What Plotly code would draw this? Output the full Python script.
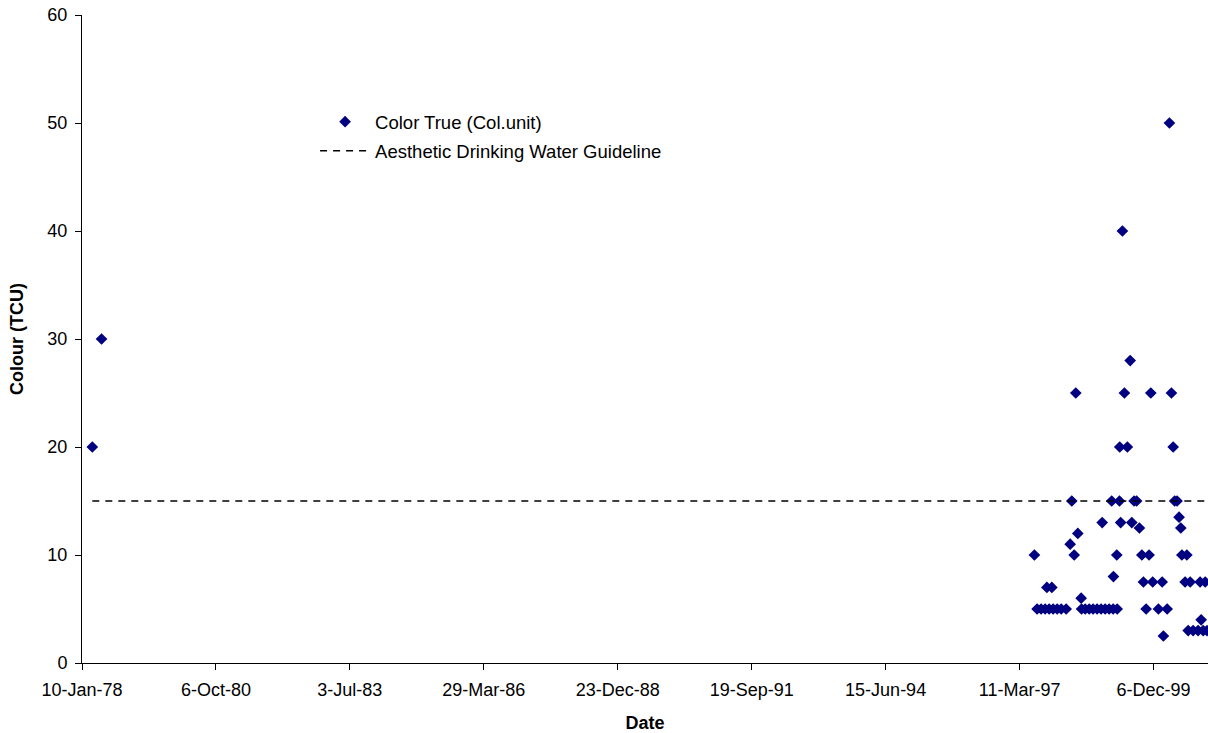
import plotly.graph_objects as go

# Colour true samples
sample_dates = [
    "1978-03-28", "1978-06-05",
    "1997-06-30", "1997-07-20", "1997-08-19", "1997-09-18", "1997-10-01",
    "1997-10-18", "1997-11-07", "1997-11-17", "1997-12-17", "1998-01-16",
    "1998-02-22", "1998-03-24", "1998-04-05", "1998-04-23", "1998-05-05",
    "1998-05-20", "1998-06-14", "1998-06-17", "1998-07-14", "1998-08-13",
    "1998-09-11", "1998-10-11", "1998-11-10", "1998-11-18", "1998-12-10",
    "1999-01-09", "1999-01-28", "1999-02-08", "1999-02-10", "1999-03-07",
    "1999-03-10", "1999-03-27", "1999-03-29", "1999-04-05", "1999-04-18",
    "1999-05-03", "1999-05-25", "1999-06-15", "1999-06-27", "1999-07-14",
    "1999-08-02", "1999-08-23", "1999-09-10", "1999-09-22", "1999-10-12",
    "1999-11-03", "1999-11-16", "1999-11-30", "2000-01-12", "2000-02-09",
    "2000-02-18", "2000-03-17", "2000-04-03", "2000-04-18", "2000-05-01",
    "2000-05-12", "2000-05-30", "2000-06-14", "2000-06-27", "2000-07-05",
    "2000-07-29", "2000-08-11", "2000-08-21", "2000-09-05", "2000-09-27",
    "2000-11-03", "2000-11-18", "2000-11-26", "2000-12-11", "2000-12-26",
    "2001-01-09",
]
colour_tcu = [
    20, 30,
    10, 5, 5, 5, 7,
    5, 7, 5, 5, 5,
    5, 11, 15, 10, 25,
    12, 6, 5, 5, 5,
    5, 5, 5, 13, 5,
    5, 15, 5, 8, 10,
    5, 15, 20, 13, 40,
    25, 20, 28, 13, 15,
    15, 12.5, 10, 7.5, 5,
    10, 25, 7.5, 5, 7.5,
    2.5, 5, 50, 25, 20,
    15, 15, 13.5, 12.5, 10,
    7.5, 10, 3, 7.5, 3,
    3, 7.5, 4, 3, 7.5,
    3,
]

guideline_value = 15

tick_dates = ["1978-01-10", "1980-10-06", "1983-07-03", "1986-03-29", "1988-12-23",
              "1991-09-19", "1994-06-15", "1997-03-11", "1999-12-06"]
tick_labels = ["10-Jan-78", "6-Oct-80", "3-Jul-83", "29-Mar-86", "23-Dec-88",
               "19-Sep-91", "15-Jun-94", "11-Mar-97", "6-Dec-99"]

FONT = "Liberation Sans, Arial, sans-serif"

fig = go.Figure()

fig.add_trace(go.Scatter(
    x=sample_dates, y=colour_tcu, mode="markers",
    name="Color True (Col.unit)", legendgroup="a",
    marker=dict(symbol="diamond", size=9, color="#000080"),
))

# guideline runs from the first to the last sample
fig.add_trace(go.Scatter(
    x=[sample_dates[0], sample_dates[-1]], y=[guideline_value, guideline_value],
    mode="lines", name="Aesthetic Drinking Water Guideline", legendgroup="b",
    line=dict(color="black", width=1.5, dash="7px,6px"),
))

fig.update_layout(
    width=1208, height=733,
    margin=dict(l=82, r=0, t=15, b=70),
    paper_bgcolor="white", plot_bgcolor="white",
    font=dict(family=FONT, size=18, color="black"),
    showlegend=True,
    legend=dict(x=0.207, y=0.864, xanchor="left", yanchor="top",
                bgcolor="rgba(0,0,0,0)", traceorder="grouped", tracegroupgap=2,
                itemwidth=50, font=dict(size=18.5)),
)

fig.update_xaxes(
    type="date", range=["1978-01-10", "2001-01-16"],
    tickvals=tick_dates, ticktext=tick_labels,
    showline=True, linecolor="black", linewidth=1,
    ticks="outside", ticklen=6, tickcolor="black",
    showgrid=False, zeroline=False, ticklabelstandoff=4,
    ticklabeloverflow="allow",
    title=dict(text="<b>Date</b>", standoff=17, font=dict(size=18)),
)
fig.update_yaxes(
    range=[0, 60], tickvals=[0, 10, 20, 30, 40, 50, 60],
    showline=True, linecolor="black", linewidth=1,
    ticks="outside", ticklen=6, tickcolor="black",
    showgrid=False, zeroline=False, ticklabelstandoff=4,
    ticklabeloverflow="allow",
    title=dict(text="<b>Colour (TCU)</b>", standoff=19, font=dict(size=18)),
)

# drop the default body margin so the figure fills the window exactly
fig.write_html("out.html", config={"displayModeBar": False},
               post_script="document.body.style.margin='0';")
